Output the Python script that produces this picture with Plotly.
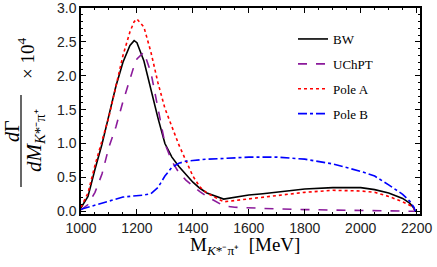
import plotly.graph_objects as go

# Invariant mass grid (MeV)
mass = [1000, 1025, 1050, 1075, 1100, 1125, 1150, 1175, 1190, 1200, 1225, 1250, 1275,
        1300, 1325, 1350, 1375, 1400, 1425, 1450, 1510, 1550, 1600, 1650, 1700, 1800,
        1900, 2000, 2050, 2100, 2150, 2175, 2190, 2195]

bw = [0.05, 0.22, 0.62, 0.99, 1.42, 1.85, 2.20, 2.45, 2.52, 2.49, 2.22, 1.78, 1.38,
      1.00, 0.80, 0.66, 0.55, 0.43, 0.34, 0.27, 0.18, 0.21, 0.24, 0.26, 0.28, 0.33,
      0.35, 0.35, 0.32, 0.27, 0.19, 0.12, 0.05, 0.0]

uchpt = [0.02, 0.10, 0.28, 0.55, 0.95, 1.25, 1.62, 1.97, 2.15, 2.25, 2.35, 2.05, 1.50,
         1.00, 0.74, 0.57, 0.46, 0.37, 0.29, 0.22, 0.08, 0.06, 0.05, 0.04, 0.035, 0.025,
         0.02, 0.015, 0.012, 0.01, 0.007, 0.005, 0.003, 0.0]

pole_a = [0.06, 0.27, 0.68, 1.05, 1.40, 1.85, 2.30, 2.65, 2.80, 2.84, 2.72, 2.35, 1.90,
          1.52, 1.25, 0.98, 0.75, 0.52, 0.36, 0.27, 0.14, 0.16, 0.18, 0.20, 0.23, 0.28,
          0.31, 0.30, 0.28, 0.22, 0.14, 0.09, 0.04, 0.0]

pole_b = [0.03, 0.06, 0.10, 0.13, 0.16, 0.19, 0.21, 0.22, 0.225, 0.23, 0.24, 0.26, 0.35,
          0.52, 0.65, 0.71, 0.74, 0.75, 0.76, 0.77, 0.78, 0.79, 0.80, 0.80, 0.80, 0.77,
          0.70, 0.59, 0.52, 0.39, 0.25, 0.15, 0.06, 0.0]

series_names = ["BW", "UChPT", "Pole A", "Pole B"]
x_ticks = [1000, 1200, 1400, 1600, 1800, 2000, 2200]
y_ticks = [0.0, 0.5, 1.0, 1.5, 2.0, 2.5, 3.0]

W, H = 437, 267
L, R, T, B = 81, 17, 8, 53
pw, ph = W - L - R, H - T - B

def px_x(p):
    return (p - L) / pw

def px_y(p):
    return (H - B - p) / ph

fig = go.Figure()
styles = [
    dict(color="black", dash="solid", width=1.6),
    dict(color="#8b1a9b", dash="dash", width=1.6),
    dict(color="red", dash="dot", width=1.6),
    dict(color="blue", dash="dashdot", width=1.6),
]
for name, ys, st, grp in zip(series_names, [bw, uchpt, pole_a, pole_b], styles, "abcd"):
    fig.add_trace(go.Scatter(x=mass, y=ys, mode="lines", name=name, line=st,
                             legendgroup=grp))

serif = "Liberation Serif"
sans = "Liberation Sans"

axis_common = dict(
    showline=True, linecolor="black", linewidth=1.5, mirror="ticks",
    ticks="inside", ticklen=5, tickwidth=1, tickcolor="black",
    showgrid=False, zeroline=False, automargin=False, ticklabeloverflow="allow",
    tickfont=dict(family=sans, size=14, color="#222"),
)
fig.update_xaxes(range=[1000, 2212], tickvals=x_ticks, ticktext=[str(v) for v in x_ticks],
                 minor=dict(ticks="inside", dtick=50, ticklen=2.5, tickcolor="black", showgrid=False),
                 **axis_common)
fig.update_yaxes(range=[-0.04, 3.002], tickvals=y_ticks, ticktext=[f"{v:.1f}" for v in y_ticks],
                 minor=dict(ticks="inside", dtick=0.1, ticklen=2.5, tickcolor="black", showgrid=False),
                 **axis_common)

annotations = [
    dict(text="<i>d</i>Γ", x=0, xref="paper", xshift=12 - L, y=px_y(131), yref="paper",
         textangle=-90, showarrow=False, xanchor="center", yanchor="middle",
         font=dict(family=serif, size=20, color="black")),
    dict(text="<i>dM</i><sub><i>K</i>*⁻π⁺</sub>", x=0, xref="paper", xshift=35 - L,
         y=px_y(141), yref="paper", textangle=-90, showarrow=False,
         xanchor="center", yanchor="middle", font=dict(family=serif, size=21, color="black")),
    dict(text="× 10<sup>4</sup>", x=0, xref="paper", xshift=26 - L, y=px_y(59), yref="paper",
         textangle=-90, showarrow=False, xanchor="center", yanchor="middle",
         font=dict(family=serif, size=19, color="black")),
    dict(text="M<sub><i>K</i>*⁻π⁺</sub>  [MeV]", x=0, xref="paper", xshift=245 - L,
         y=px_y(246), yref="paper",
         showarrow=False, xanchor="center", yanchor="middle",
         font=dict(family=serif, size=19, color="black")),
]

shapes = [
    dict(type="line", xref="paper", yref="paper", x0=px_x(21), x1=px_x(21),
         y0=px_y(95), y1=px_y(187), line=dict(color="black", width=1.2)),
]

fig.update_layout(
    width=W, height=H,
    margin=dict(l=L, r=R, t=T, b=B, pad=0, autoexpand=False),
    paper_bgcolor="white", plot_bgcolor="white",
    showlegend=True,
    legend=dict(x=px_x(293), y=px_y(24), xanchor="left", yanchor="top",
                font=dict(family=serif, size=13, color="black"),
                bgcolor="rgba(0,0,0,0)", tracegroupgap=5, itemwidth=30),
    annotations=annotations, shapes=shapes,
)

fig.write_html("out.html", config={"displayModeBar": False},
               post_script="document.body.style.margin='0';document.body.style.padding='0';")
